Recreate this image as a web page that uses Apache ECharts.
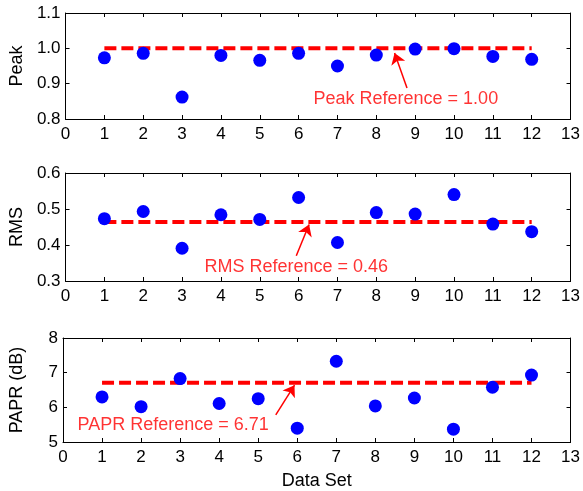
<!DOCTYPE html>
<html>
<head>
<meta charset="utf-8">
<script src="https://cdn.jsdelivr.net/npm/echarts@6/dist/echarts.min.js"></script>
<style>
  html, body { margin: 0; padding: 0; background: #fff; }
  #chart { width: 583px; height: 491px; }
</style>
</head>
<body>
<div id="chart"></div>
<script>
// Data sets 1..12
const dataSets = [1, 2, 3, 4, 5, 6, 7, 8, 9, 10, 11, 12];

// Measured values per data set
const peakValues = [0.973, 0.986, 0.862, 0.980, 0.966, 0.986, 0.950, 0.981, 0.998, 0.999, 0.977, 0.969];
const rmsValues  = [0.473, 0.493, 0.391, 0.484, 0.471, 0.532, 0.407, 0.490, 0.486, 0.540, 0.458, 0.437];
const paprValues = [6.30, 6.02, 6.83, 6.11, 6.25, 5.40, 7.33, 6.04, 6.27, 5.37, 6.58, 6.93];

// Reference levels
const peakRef = 1.00;
const rmsRef = 0.4636;
const paprRef = 6.71;

// Panel axis titles and ranges
const panelNames = ['Peak', 'RMS', 'PAPR (dB)'];
const yMins = [0.8, 0.3, 5];
const yMaxs = [1.1, 0.6, 8];
const yIntervals = [0.1, 0.1, 1];
const yDecimals = [1, 1, 0];

// Annotation anchors (data units): arrow tail, arrow head, text centre
const arrowTails = [[8.79, 0.888], [5.94, 0.370], [5.45, 5.78]];
const arrowHeads = [[8.47, 0.987], [6.27, 0.457], [5.93, 6.64]];
const textCentres = [[8.76, 0.856], [5.94, 0.340], [2.82, 5.49]];
const refLabels = ['Peak Reference', 'RMS Reference', 'PAPR Reference'];

const values = [peakValues, rmsValues, paprValues];
const refs = [peakRef, rmsRef, paprRef];

const FONT = '"Liberation Sans", Arial, sans-serif';
const gridTops = [13, 173, 338];
const gridHeights = [106, 108, 106];

const grids = [], xAxes = [], yAxes = [], series = [];

for (let i = 0; i < 3; i++) {
  grids.push({ left: 61, right: 12, top: gridTops[i], height: gridHeights[i], containLabel: false });

  const xBase = {
    gridIndex: i, type: 'value', min: 0, max: 13, interval: 1,
    axisLine: { show: true, onZero: false, lineStyle: { color: '#000', width: 1 } },
    axisTick: { show: true, inside: true, length: 4, lineStyle: { color: '#000' } },
    splitLine: { show: false }
  };
  xAxes.push(Object.assign({}, xBase, {
    position: 'bottom',
    axisLabel: { show: true, color: '#000', fontFamily: FONT, fontSize: 17, margin: 7 },
    name: i === 2 ? 'Data Set' : '',
    nameLocation: 'middle', nameGap: 30,
    nameTextStyle: { color: '#000', fontFamily: FONT, fontSize: 18 }
  }));
  xAxes.push(Object.assign({}, xBase, { position: 'top', axisLabel: { show: false } }));

  const yBase = {
    gridIndex: i, type: 'value', min: yMins[i], max: yMaxs[i], interval: yIntervals[i],
    axisLine: { show: true, onZero: false, lineStyle: { color: '#000', width: 1 } },
    axisTick: { show: true, inside: true, length: 4, lineStyle: { color: '#000' } },
    splitLine: { show: false }
  };
  const dec = yDecimals[i];
  yAxes.push(Object.assign({}, yBase, {
    position: 'left',
    axisLabel: {
      show: true, color: '#000', fontFamily: FONT, fontSize: 17, margin: 5,
      formatter: v => v.toFixed(dec)
    },
    name: panelNames[i], nameLocation: 'middle', nameRotate: 90, nameGap: 37,
    nameTextStyle: { color: '#000', fontFamily: FONT, fontSize: 18 }
  }));
  yAxes.push(Object.assign({}, yBase, { position: 'right', axisLabel: { show: false } }));

  // dashed reference level spanning the data sets
  series.push({
    type: 'line', xAxisIndex: 2 * i, yAxisIndex: 2 * i,
    data: [[dataSets[0], refs[i]], [dataSets[dataSets.length - 1], refs[i]]],
    symbol: 'none', silent: true, z: 2,
    lineStyle: { color: '#ff0000', width: 4, type: [12, 5] }
  });

  // measured points
  series.push({
    type: 'scatter', xAxisIndex: 2 * i, yAxisIndex: 2 * i,
    data: dataSets.map((d, k) => [d, values[i][k]]),
    symbol: 'circle', symbolSize: 13, z: 3,
    itemStyle: { color: '#0000ff', opacity: 1 }
  });

  // arrow pointing at the reference line
  series.push({
    type: 'lines', coordinateSystem: 'cartesian2d', xAxisIndex: 2 * i, yAxisIndex: 2 * i,
    data: [{ coords: [arrowTails[i], arrowHeads[i]] }],
    symbol: ['none', 'arrow'], symbolSize: [7, 11], z: 4,
    lineStyle: { color: '#ff0000', width: 1.5, opacity: 1, curveness: 0 }
  });

  // reference label text
  series.push({
    type: 'scatter', xAxisIndex: 2 * i, yAxisIndex: 2 * i,
    data: [textCentres[i]], symbolSize: 0, silent: true, z: 5,
    label: {
      show: true, position: 'inside', color: '#ff0000', fontFamily: FONT, fontSize: 18,
      formatter: () => refLabels[i] + ' = ' + refs[i].toFixed(2)
    }
  });
}

const chart = echarts.init(document.getElementById('chart'), null, { renderer: 'canvas' });
chart.setOption({
  animation: false,
  backgroundColor: '#fff',
  grid: grids,
  xAxis: xAxes,
  yAxis: yAxes,
  series: series
});
</script>
</body>
</html>
